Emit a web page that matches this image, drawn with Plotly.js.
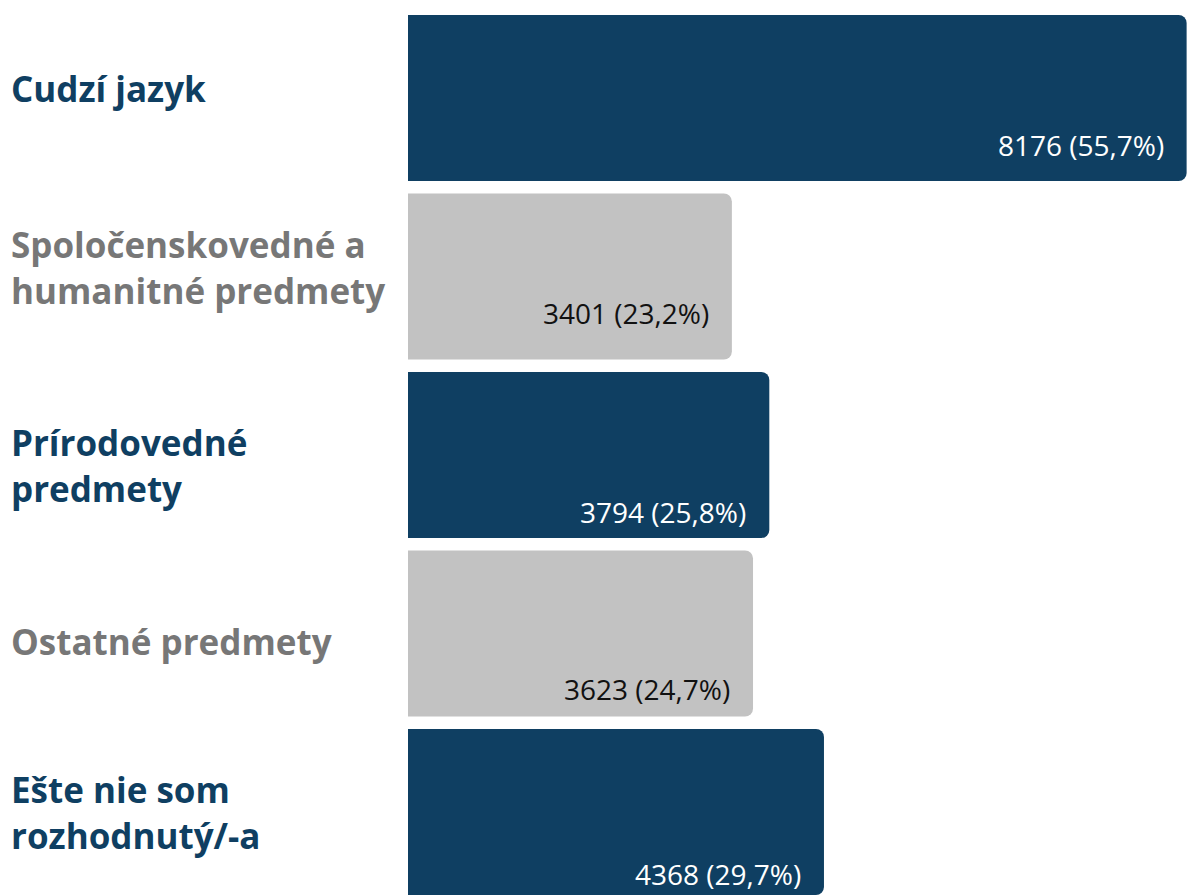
<!DOCTYPE html>
<html>
<head>
<meta charset="utf-8">
<script src="https://cdn.plot.ly/plotly-3.0.1.min.js"></script>
<style>
  html, body { margin: 0; padding: 0; background: #fff; }
  #chart { width: 1187px; height: 895px; }
</style>
</head>
<body>
<div id="chart"></div>
<script>
// categories (top to bottom) and values
const categories = [
  'Cudzí jazyk',
  'Spoločenskovedné a<br>humanitné predmety',
  'Prírodovedné<br>predmety',
  'Ostatné predmety',
  'Ešte nie som<br>rozhodnutý/-a'
];
const counts = [8176, 3401, 3794, 3623, 4368];
const shares = ['55,7', '23,2', '25,8', '24,7', '29,7'];

const DARK = '#0f3f62';
const GREY = '#c2c2c2';
const barColors = [DARK, GREY, DARK, GREY, DARK];
const catColors = [DARK, '#777777', DARK, '#777777', DARK];
const valColors = ['#ffffff', '#111111', '#ffffff', '#111111', '#ffffff'];
// small vertical nudges (px) of the category names and value labels
const catShift = [10, 9, -10, -8, 0];
const valShift = [-47, -36, -57, -55, -62];

const ML = 408;
const PW = 1187 - ML;
const idx = categories.map((c, i) => i);

const trace = {
  type: 'bar',
  orientation: 'h',
  x: counts,
  y: idx,
  width: 0.93,
  marker: { color: barColors, line: { width: 0 } },
  hoverinfo: 'skip'
};

let annotations = [];
categories.forEach((c, i) => {
  annotations.push({
    xref: 'paper', yref: 'y',
    x: (9 - ML) / PW, y: i,
    xanchor: 'left', yanchor: 'middle', align: 'left',
    yshift: catShift[i],
    text: '<b>' + c + '</b>',
    showarrow: false,
    font: { family: 'Open Sans', size: 35, color: catColors[i] }
  });
  annotations.push({
    xref: 'x', yref: 'y',
    x: counts[i], y: i,
    xanchor: 'right', yanchor: 'middle',
    xshift: -21, yshift: valShift[i],
    text: counts[i] + ' (' + shares[i] + '%)',
    showarrow: false,
    font: { family: 'Open Sans', size: 28, color: valColors[i] }
  });
});

const layout = {
  width: 1187,
  height: 895,
  margin: { l: ML, r: 0, t: 0, b: 0, pad: 0 },
  paper_bgcolor: '#ffffff',
  plot_bgcolor: '#ffffff',
  showlegend: false,
  barcornerradius: 8,
  xaxis: { range: [0, 8180], visible: false, fixedrange: true },
  yaxis: { range: [4.465, -0.549], visible: false, fixedrange: true },
  annotations: annotations
};

Plotly.newPlot('chart', [trace], layout, { displayModeBar: false, staticPlot: true });
</script>
</body>
</html>
